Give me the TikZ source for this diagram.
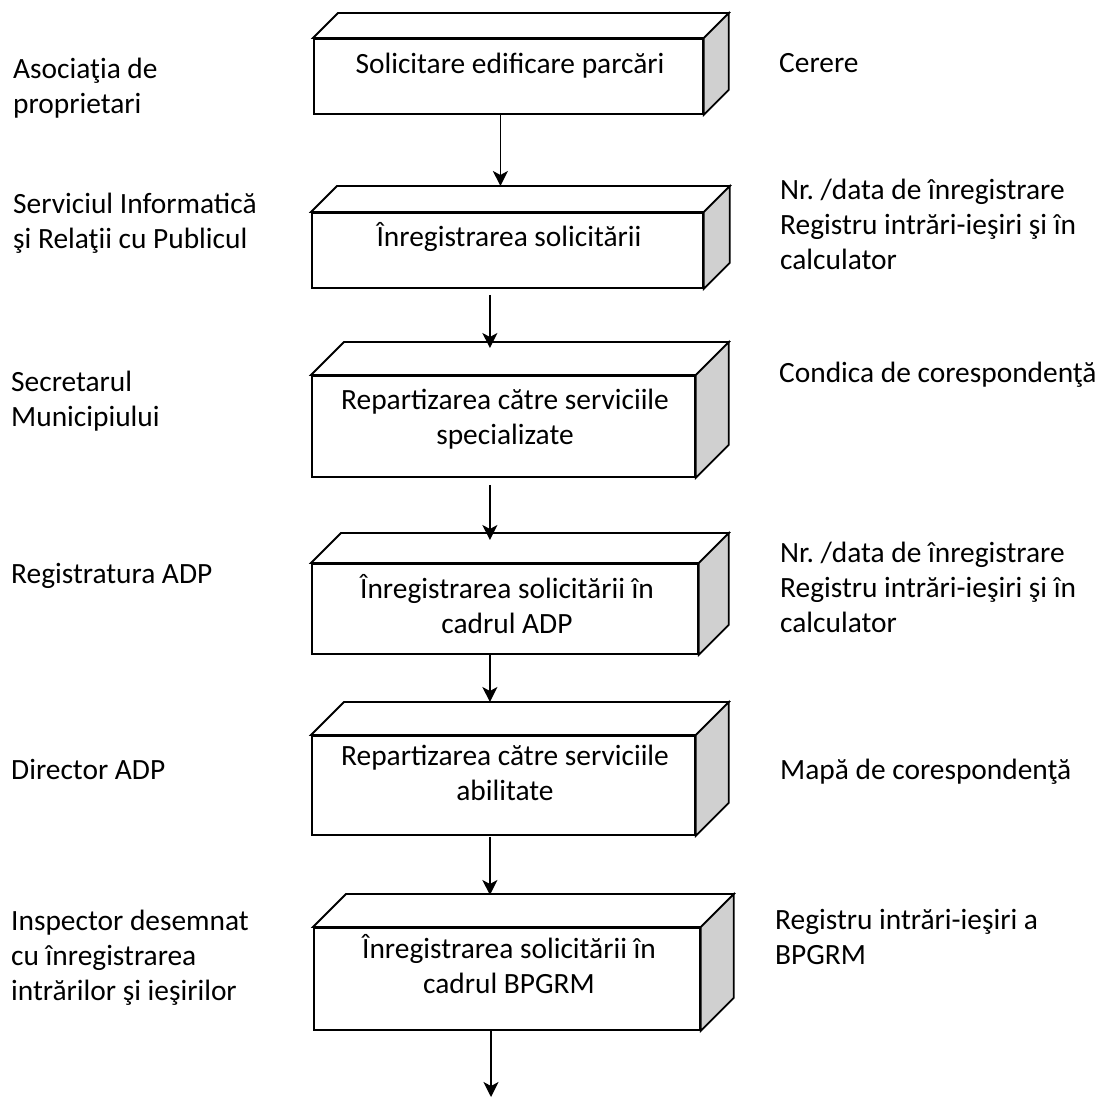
\documentclass[tikz,border=0pt]{standalone}
\usepackage{fontspec}
\setmainfont{Carlito}
\usetikzlibrary{arrows.meta}
\frenchspacing
\newcommand{\ltxt}[1]{\begin{tabular}[t]{@{}l@{}}#1\end{tabular}}
\newcommand{\ctxt}[1]{\begin{tabular}[t]{@{}c@{}}#1\end{tabular}}
\definecolor{sidegray}{RGB}{208,208,208}
\tikzset{
  face/.style={draw=black, line width=1.8pt, fill=white, rectangle, inner sep=0pt, anchor=north west},
  topface/.style={draw=black, line width=1.8pt, fill=white, line join=miter},
  sideface/.style={draw=black, line width=1.8pt, fill=sidegray, line join=miter},
  boxtext/.style={inner sep=0pt, anchor=base},
  sidetext/.style={inner sep=0pt, anchor=base west},
  arr/.style={line width=1.8pt, -{Stealth[length=15pt,width=15pt,inset=4pt]}},
}
\begin{document}
\begin{tikzpicture}[x=1pt,y=-1pt,font=\fontsize{29.4}{35}\selectfont]
\useasboundingbox[fill=white] (0,0) rectangle (1099,1097);

% generic 3D box: #1 name, #2 x1, #3 y1, #4 width, #5 height, #6 depth
\newcommand{\threedbox}[6]{%
  \node[face, minimum width=#4pt, minimum height=#5pt] (#1) at (#2,#3) {};
  \draw[topface] (#1.north west) -- ++(#6,-#6) -- ([shift={(#6pt,#6pt)}]#1.north east) -- (#1.north east) -- cycle;
  \draw[sideface] (#1.north east) -- ++(#6,-#6) -- ([shift={(#6pt,#6pt)}]#1.south east) -- (#1.south east) -- cycle;
  \coordinate (#1top) at ([yshift=#6pt]#1.north);
}

\threedbox{b1}{313}{38}{389}{75}{25}
\threedbox{b2}{311}{212}{391}{75}{26}
\threedbox{b3}{311}{375}{383}{101}{33}
\threedbox{b4}{311}{563}{386}{90}{30}
\threedbox{b5}{311}{735}{383}{99}{33}
\threedbox{b6}{313}{927}{386}{102}{33}

% box texts
\node[boxtext] (t1) at (510,74) {\ctxt{Solicitare edificare parcări}};
\node[boxtext] (t2) at (509,246) {\ctxt{Înregistrarea solicitării}};
\node[boxtext] (t3) at (505,409) {\ctxt{Repartizarea către serviciile\\specializate}};
\node[boxtext] (t4) at (507,598) {\ctxt{Înregistrarea solicitării în\\cadrul ADP}};
\node[boxtext] (t5) at (505,765) {\ctxt{Repartizarea către serviciile\\abilitate}};
\node[boxtext] (t6) at (509,958) {\ctxt{Înregistrarea solicitării în\\cadrul BPGRM}};

% arrows
\draw[arr] ([xshift=-8pt]b1.south) -- ([xshift=-8pt]b1.south |- b2top);
\draw[arr] ([shift={(-17.5pt,-6pt)}]b2.south) -- ([shift={(-17.5pt,-6pt)}]b2.south |- b3top);
\draw[arr] ([shift={(-13.5pt,-7pt)}]b3.south) -- ([shift={(-13.5pt,-7pt)}]b3.south |- b4top);
\draw[arr] ([xshift=-15pt]b4.south) -- ([xshift=-15pt]b4.south |- b5top);
\draw[arr] ([shift={(-13.5pt,-1pt)}]b5.south) -- ([shift={(-13.5pt,-1pt)}]b5.south |- b6top);
\coordinate (endpt) at (491,1097);
\draw[arr] (b6.south -| endpt) -- (endpt);

% left column
\node[sidetext] (l1) at (13,79) {\ltxt{Asociaţia de\\proprietari}};
\node[sidetext] (l2) at (13,213) {\ltxt{Serviciul Informatică\\şi Relaţii cu Publicul}};
\node[sidetext] (l3) at (11,391) {\ltxt{Secretarul\\Municipiului}};
\node[sidetext] (l4) at (11,583) {\ltxt{Registratura ADP}};
\node[sidetext] (l5) at (11,779) {\ltxt{Director ADP}};
\node[sidetext] (l6) at (11,930) {\ltxt{Inspector desemnat\\cu înregistrarea\\intrărilor şi ieşirilor}};

% right column
\node[sidetext] (r1) at (779,73) {\ltxt{Cerere}};
\node[sidetext] (r2) at (780,199) {\ltxt{Nr. /data de înregistrare\\Registru intrări-ieşiri şi în\\calculator}};
\node[sidetext] (r3) at (779,382) {\ltxt{Condica de corespondenţă}};
\node[sidetext] (r4) at (780,562) {\ltxt{Nr. /data de înregistrare\\Registru intrări-ieşiri şi în\\calculator}};
\node[sidetext] (r5) at (780,779) {\ltxt{Mapă de corespondenţă}};
\node[sidetext] (r6) at (775,929) {\ltxt{Registru intrări-ieşiri a\\BPGRM}};
\end{tikzpicture}
\end{document}
